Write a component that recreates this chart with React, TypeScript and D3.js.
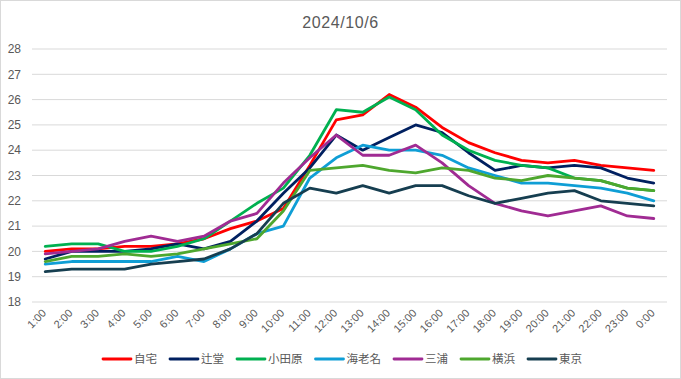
import React from "react";
import * as d3 from "d3";

const hours = ["1:00","2:00","3:00","4:00","5:00","6:00","7:00","8:00","9:00","10:00","11:00","12:00","13:00","14:00","15:00","16:00","17:00","18:00","19:00","20:00","21:00","22:00","23:00","0:00"];

const jitaku = [20.0,20.1,20.1,20.2,20.2,20.3,20.5,20.9,21.2,21.7,23.4,25.2,25.4,26.2,25.7,24.9,24.3,23.9,23.6,23.5,23.6,23.4,23.3,23.2];
const tsujido = [19.7,20.0,20.0,20.0,20.1,20.3,20.1,20.4,21.2,22.3,23.3,24.6,24.0,24.5,25.0,24.7,23.9,23.2,23.4,23.3,23.4,23.3,22.9,22.7];
const odawara = [20.2,20.3,20.3,20.0,20.0,20.2,20.5,21.2,21.9,22.5,23.8,25.6,25.5,26.1,25.6,24.6,24.0,23.6,23.4,23.3,22.9,22.8,22.5,22.4];
const ebina = [19.5,19.6,19.6,19.6,19.6,19.8,19.6,20.1,20.7,21.0,22.9,23.7,24.2,24.0,24.0,23.8,23.3,23.0,22.7,22.7,22.6,22.5,22.3,22.0];
const miura = [19.9,20.0,20.1,20.4,20.6,20.4,20.6,21.2,21.5,22.7,23.7,24.6,23.8,23.8,24.2,23.5,22.6,21.9,21.6,21.4,21.6,21.8,21.4,21.3];
const yokohama = [19.6,19.8,19.8,19.9,19.8,19.9,20.1,20.3,20.5,21.6,23.2,23.3,23.4,23.2,23.1,23.3,23.2,22.9,22.8,23.0,22.9,22.8,22.5,22.4];
const tokyo = [19.2,19.3,19.3,19.3,19.5,19.6,19.7,20.1,20.7,21.9,22.5,22.3,22.6,22.3,22.6,22.6,22.2,21.9,22.1,22.3,22.4,22.0,21.9,21.8];

const seriesNames = ["自宅","辻堂","小田原","海老名","三浦","横浜","東京"];
const seriesValues = [jitaku, tsujido, odawara, ebina, miura, yokohama, tokyo];
const seriesColors = ["#FF0000","#002060","#00B050","#0F9ED5","#A02B93","#4EA72E","#163E50"];
const yTicks = [18,19,20,21,22,23,24,25,26,27,28];
const title = "2024/10/6";

const W = 681, H = 379;
const plotLeft = 32, plotRight = 667, plotTop = 49, plotBottom = 302;
const font = "'Liberation Sans', Arial, 'Noto Sans CJK JP', sans-serif";
const textColor = "#595959";

export default function App() {
  const x = d3.scaleBand<string>().domain(hours).range([plotLeft, plotRight]);
  const xc = (h: string) => (x(h) as number) + x.bandwidth() / 2;
  const y = d3.scaleLinear().domain([18, 28]).range([plotBottom, plotTop]);
  const line = d3.line<number>().x((_, i) => xc(hours[i])).y(v => y(v));

  // legend layout
  const lineLen = 28, gapText = 3, charW = 11.5, gapItem = 13;
  const widths = seriesNames.map(n => lineLen + gapText + n.length * charW);
  const total = d3.sum(widths) + gapItem * (seriesNames.length - 1);
  let lx = (W / 2 + 2) - total / 2;
  const legendItems = seriesNames.map((n, i) => {
    const item = { name: n, x: lx, color: seriesColors[i] };
    lx += widths[i] + gapItem;
    return item;
  });
  const legendY = 359;

  return (
    <div style={{ position: "absolute", left: 0, top: 0 }}>
      <svg width={W} height={H} style={{ display: "block", fontFamily: font }}>
        <rect x={0} y={0} width={W} height={H} fill="#fff" />
        <rect x={0.5} y={0.5} width={W - 1} height={H - 1} fill="none" stroke="#D9D9D9" strokeWidth={1} />
        <text x={W / 2} y={28} textAnchor="middle" fontSize={16} letterSpacing={0.6} fill={textColor}>{title}</text>
        {yTicks.map(t => (
          <g key={t}>
            <line x1={plotLeft} x2={plotRight} y1={y(t)} y2={y(t)} stroke="#D9D9D9" strokeWidth={1} />
            <text x={21} y={y(t)} dy="0.35em" textAnchor="end" fontSize={12} fill={textColor}>{t}</text>
          </g>
        ))}
        {hours.map(h => (
          <text key={h} transform={`translate(${xc(h) - 1},${plotBottom + 9}) rotate(-45)`} textAnchor="end" dy="0.35em" fontSize={11} fill={textColor}>{h}</text>
        ))}
        {seriesValues.map((vals, i) => (
          <path key={seriesNames[i]} d={line(vals) as string} fill="none" stroke={seriesColors[i]} strokeWidth={2.8} strokeLinejoin="round" strokeLinecap="round" />
        ))}
        {legendItems.map(it => (
          <g key={it.name}>
            <line x1={it.x} x2={it.x + lineLen} y1={legendY} y2={legendY} stroke={it.color} strokeWidth={2.8} strokeLinecap="round" />
            <text x={it.x + lineLen + gapText} y={legendY} dy="0.36em" fontSize={11.5} fill={textColor} fontFamily="'Noto Sans CJK JP', sans-serif">{it.name}</text>
          </g>
        ))}
      </svg>
    </div>
  );
}
